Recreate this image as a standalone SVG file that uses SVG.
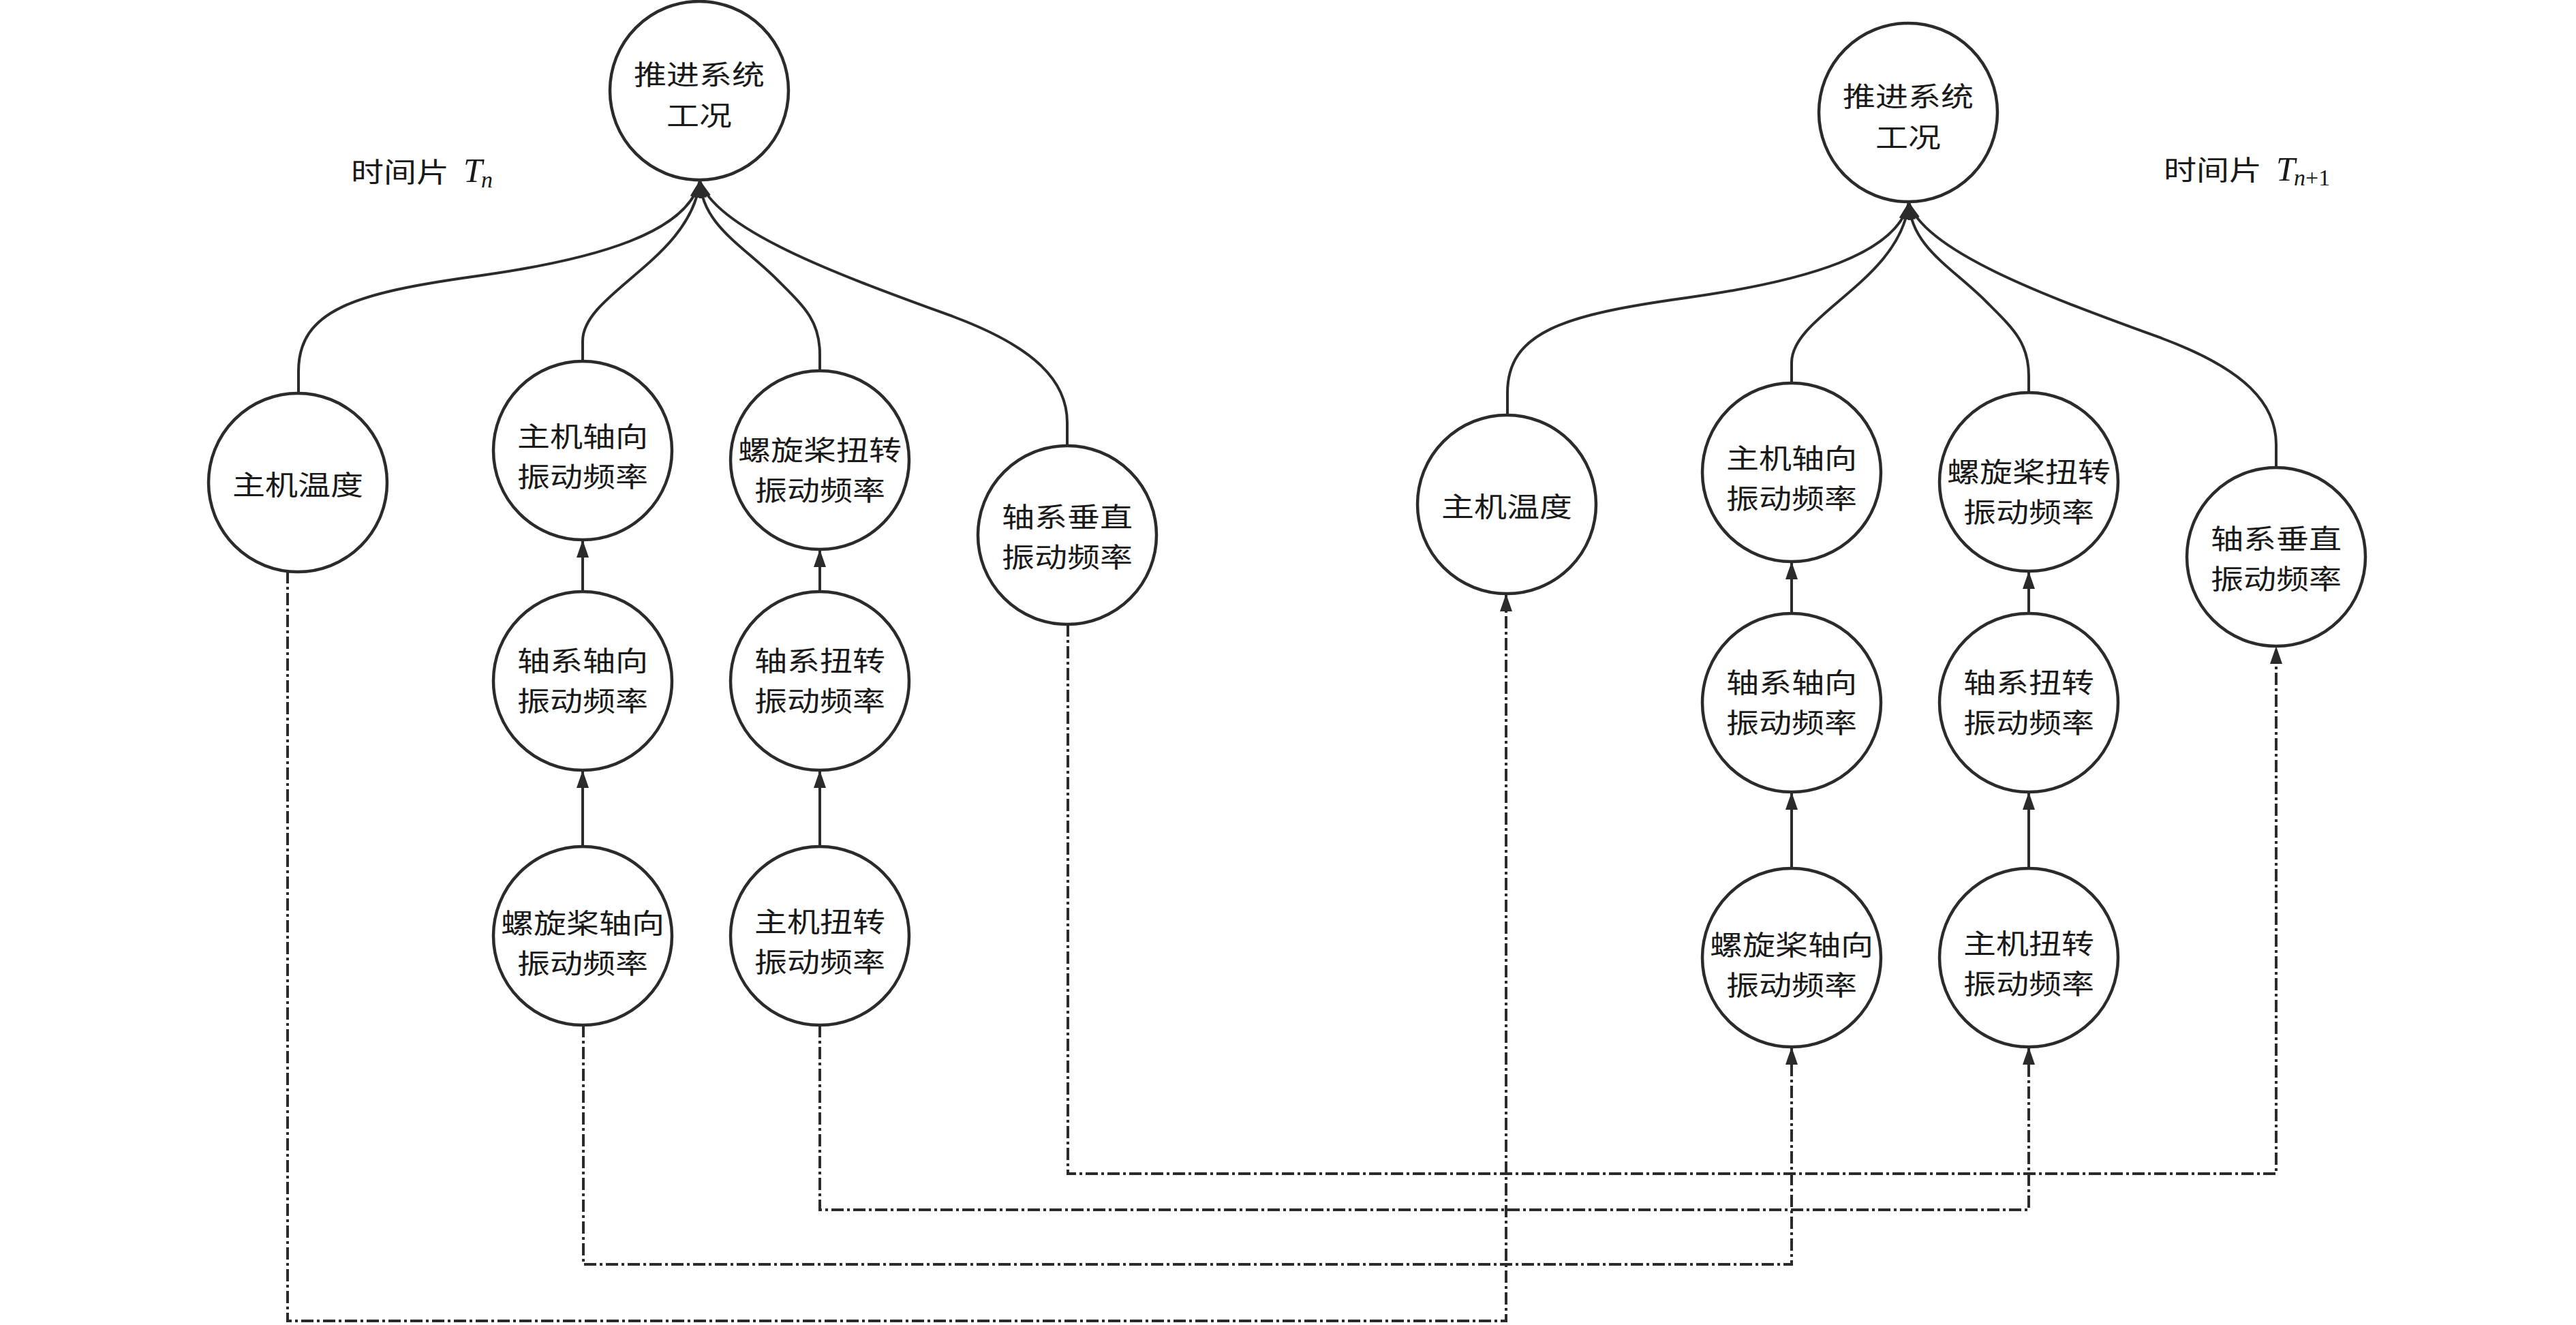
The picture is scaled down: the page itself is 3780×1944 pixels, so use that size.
<svg xmlns="http://www.w3.org/2000/svg" width="3780" height="1944" viewBox="0 0 3780 1944">
<style>
.node circle{fill:#fff;stroke:#2b2b2b;stroke-width:4.5}
.node text,.lbl{font-family:"Noto Sans CJK SC","Noto Sans CJK JP",sans-serif;font-size:40px;fill:#1a1a1a;text-anchor:middle;dominant-baseline:central}
.lbl{text-anchor:start}
.solid{fill:none;stroke:#2b2b2b;stroke-width:4}
.dash{fill:none;stroke:#2b2b2b;stroke-width:4;stroke-dasharray:18 5 4 5}
.math{font-family:"Liberation Serif","Times New Roman",serif;fill:#1a1a1a}
.ser{font-style:italic}
.rom{font-style:normal}
</style>
<defs>
<marker id="ah" markerUnits="userSpaceOnUse" markerWidth="26" markerHeight="18" viewBox="0 0 26 18" refX="25" refY="9" orient="auto">
<path d="M0,0 L26,9 L0,18 z" fill="#2b2b2b"/>
</marker>
</defs>
<rect width="3780" height="1944" fill="#fff"/>

<g id="connectors">
<g id="left-tree-edges">
<path class="solid" marker-end="url(#ah)" d="M438 577 V545 C438 455 520 430 700 405 C880 380 1010 340 1027 265"/>
<path class="solid" marker-end="url(#ah)" d="M855 530 V500 C855 430 1015 380 1027 265"/>
<path class="solid" marker-end="url(#ah)" d="M1203 544 V520 C1203 470 1180 450 1140 410 C1090 360 1030 330 1027 265"/>
<path class="solid" marker-end="url(#ah)" d="M1566 654 V620 C1566 560 1520 510 1400 465 C1250 410 1050 340 1027 265"/>
<path class="solid" marker-end="url(#ah)" d="M855 868 V793"/>
<path class="solid" marker-end="url(#ah)" d="M1203 868 V807"/>
<path class="solid" marker-end="url(#ah)" d="M855 1242 V1131"/>
<path class="solid" marker-end="url(#ah)" d="M1203 1242 V1131"/>
</g>
<g id="right-tree-edges">
<path class="solid" marker-end="url(#ah)" d="M2212 609 V577 C2212 487 2294 462 2474 437 C2654 412 2784 372 2801 297"/>
<path class="solid" marker-end="url(#ah)" d="M2629 562 V532 C2629 462 2789 412 2801 297"/>
<path class="solid" marker-end="url(#ah)" d="M2977 576 V552 C2977 502 2954 482 2914 442 C2864 392 2804 362 2801 297"/>
<path class="solid" marker-end="url(#ah)" d="M3340 686 V652 C3340 592 3294 542 3174 497 C3024 442 2824 372 2801 297"/>
<path class="solid" marker-end="url(#ah)" d="M2629 900 V825"/>
<path class="solid" marker-end="url(#ah)" d="M2977 900 V839"/>
<path class="solid" marker-end="url(#ah)" d="M2629 1274 V1163"/>
<path class="solid" marker-end="url(#ah)" d="M2977 1274 V1163"/>
</g>
<g id="temporal-edges">
<path class="dash" marker-end="url(#ah)" d="M422 838 V1938 H2210 V872"/>
<path class="dash" marker-end="url(#ah)" d="M856 1504 V1855 H2629 V1537"/>
<path class="dash" marker-end="url(#ah)" d="M1203 1504 V1775 H2977 V1537"/>
<path class="dash" marker-end="url(#ah)" d="M1567 916 V1722 H3340 V949"/>
</g>
</g>

<g id="n-top-L" class="node"><circle cx="1026" cy="133" r="131"/><text transform="translate(1026 0) scale(1.2 1)"><tspan x="0" y="107">推进系统</tspan><tspan x="0" y="167">工况</tspan></text></g>
<g id="n-wendu-L" class="node"><circle cx="437" cy="708" r="131"/><text transform="translate(437 0) scale(1.2 1)" x="0" y="709">主机温度</text></g>
<g id="n-zjzx-L" class="node"><circle cx="855" cy="661" r="131"/><text transform="translate(855 0) scale(1.2 1)"><tspan x="0" y="637.5">主机轴向</tspan><tspan x="0" y="696.5">振动频率</tspan></text></g>
<g id="n-lxjnz-L" class="node"><circle cx="1203" cy="675" r="131"/><text transform="translate(1203 0) scale(1.2 1)"><tspan x="0" y="658">螺旋桨扭转</tspan><tspan x="0" y="717">振动频率</tspan></text></g>
<g id="n-zxcz-L" class="node"><circle cx="1566" cy="785" r="131"/><text transform="translate(1566 0) scale(1.2 1)"><tspan x="0" y="755.5">轴系垂直</tspan><tspan x="0" y="814.5">振动频率</tspan></text></g>
<g id="n-zxzx-L" class="node"><circle cx="855" cy="999" r="131"/><text transform="translate(855 0) scale(1.2 1)"><tspan x="0" y="967">轴系轴向</tspan><tspan x="0" y="1026">振动频率</tspan></text></g>
<g id="n-zxnz-L" class="node"><circle cx="1203" cy="999" r="131"/><text transform="translate(1203 0) scale(1.2 1)"><tspan x="0" y="967">轴系扭转</tspan><tspan x="0" y="1026">振动频率</tspan></text></g>
<g id="n-lxjzx-L" class="node"><circle cx="855" cy="1373" r="131"/><text transform="translate(855 0) scale(1.2 1)"><tspan x="0" y="1351.5">螺旋桨轴向</tspan><tspan x="0" y="1410.5">振动频率</tspan></text></g>
<g id="n-zjnz-L" class="node"><circle cx="1203" cy="1373" r="131"/><text transform="translate(1203 0) scale(1.2 1)"><tspan x="0" y="1349.5">主机扭转</tspan><tspan x="0" y="1408.5">振动频率</tspan></text></g>

<g id="n-top-R" class="node"><circle cx="2800" cy="165" r="131"/><text transform="translate(2800 0) scale(1.2 1)"><tspan x="0" y="139">推进系统</tspan><tspan x="0" y="199">工况</tspan></text></g>
<g id="n-wendu-R" class="node"><circle cx="2211" cy="740" r="131"/><text transform="translate(2211 0) scale(1.2 1)" x="0" y="741">主机温度</text></g>
<g id="n-zjzx-R" class="node"><circle cx="2629" cy="693" r="131"/><text transform="translate(2629 0) scale(1.2 1)"><tspan x="0" y="669.5">主机轴向</tspan><tspan x="0" y="728.5">振动频率</tspan></text></g>
<g id="n-lxjnz-R" class="node"><circle cx="2977" cy="707" r="131"/><text transform="translate(2977 0) scale(1.2 1)"><tspan x="0" y="690">螺旋桨扭转</tspan><tspan x="0" y="749">振动频率</tspan></text></g>
<g id="n-zxcz-R" class="node"><circle cx="3340" cy="817" r="131"/><text transform="translate(3340 0) scale(1.2 1)"><tspan x="0" y="787.5">轴系垂直</tspan><tspan x="0" y="846.5">振动频率</tspan></text></g>
<g id="n-zxzx-R" class="node"><circle cx="2629" cy="1031" r="131"/><text transform="translate(2629 0) scale(1.2 1)"><tspan x="0" y="999">轴系轴向</tspan><tspan x="0" y="1058">振动频率</tspan></text></g>
<g id="n-zxnz-R" class="node"><circle cx="2977" cy="1031" r="131"/><text transform="translate(2977 0) scale(1.2 1)"><tspan x="0" y="999">轴系扭转</tspan><tspan x="0" y="1058">振动频率</tspan></text></g>
<g id="n-lxjzx-R" class="node"><circle cx="2629" cy="1405" r="131"/><text transform="translate(2629 0) scale(1.2 1)"><tspan x="0" y="1383.5">螺旋桨轴向</tspan><tspan x="0" y="1442.5">振动频率</tspan></text></g>
<g id="n-zjnz-R" class="node"><circle cx="2977" cy="1405" r="131"/><text transform="translate(2977 0) scale(1.2 1)"><tspan x="0" y="1381.5">主机扭转</tspan><tspan x="0" y="1440.5">振动频率</tspan></text></g>

<g id="label-Tn">
<text class="lbl" transform="translate(515 0) scale(1.2 1)" x="0" y="250">时间片</text>
<text class="math" x="680" y="267"><tspan class="ser" font-size="50">T</tspan><tspan class="ser" x="706" y="275" font-size="34">n</tspan></text>
</g>
<g id="label-Tn1">
<text class="lbl" transform="translate(3175 0) scale(1.2 1)" x="0" y="247">时间片</text>
<text class="math" x="3340" y="265"><tspan class="ser" font-size="50">T</tspan><tspan class="ser" x="3366" y="272" font-size="34">n</tspan><tspan class="rom" font-size="34">+1</tspan></text>
</g>
</svg>
